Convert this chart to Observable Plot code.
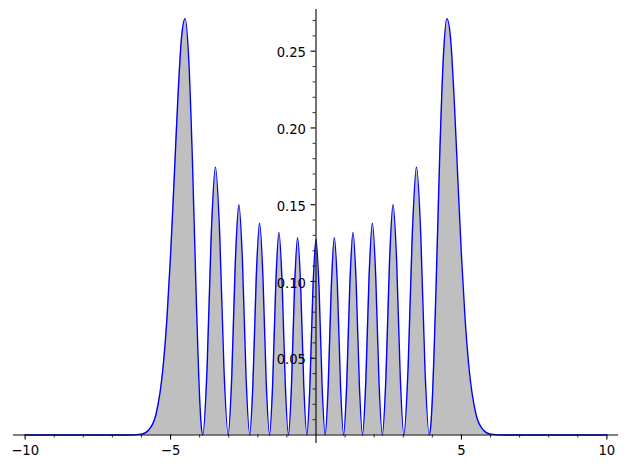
<!DOCTYPE html>
<html>
<head>
<meta charset="utf-8">
<script src="https://cdn.jsdelivr.net/npm/d3@7"></script>
<script src="https://cdn.jsdelivr.net/npm/@observablehq/plot@0.6"></script>
<style>
  html, body { margin: 0; padding: 0; background: #fff; }
  #chart svg { display: block; }
</style>
</head>
<body>
<div id="chart"></div>
<script>
// Curve samples (x, density)
const curveX = [
  -10, -7, -6.5, -6.0, -5.75, -5.5, -5.25, -5.125, -5.0, -4.875, -4.75, -4.625, -4.5, -4.375, -4.25, -4.125, -4.0, -3.95,
  -3.890, -3.745, -3.601, -3.456, -3.311, -3.166,
  -3.021, -2.897, -2.774, -2.650, -2.527, -2.404,
  -2.280, -2.166, -2.053, -1.939, -1.825, -1.712,
  -1.598, -1.490, -1.381, -1.273, -1.165, -1.056,
  -0.948, -0.843, -0.737, -0.632, -0.526, -0.420,
  -0.315, -0.210, -0.105, 0, 0.105, 0.210,
  0.315, 0.420, 0.526, 0.632, 0.737, 0.843,
  0.948, 1.056, 1.165, 1.273, 1.381, 1.490,
  1.598, 1.712, 1.825, 1.939, 2.053, 2.166,
  2.280, 2.404, 2.527, 2.650, 2.774, 2.897,
  3.021, 3.166, 3.311, 3.456, 3.601, 3.745,
  3.890, 3.95, 4.0, 4.125, 4.25, 4.375, 4.5, 4.625, 4.75, 4.875, 5.0, 5.125, 5.25, 5.5, 5.75, 6.0, 6.5, 7, 10
];
const curveY = [
  0, 0, 0.00002, 0.0006, 0.0033, 0.0135, 0.0456, 0.0757, 0.1171, 0.1673, 0.2188, 0.2586, 0.2712, 0.2447, 0.1795, 0.0946, 0.0236, 0.007,
  0, 0.0436, 0.1309, 0.1745, 0.1309, 0.0436,
  0, 0.0375, 0.1125, 0.1500, 0.1125, 0.0375,
  0, 0.0345, 0.1035, 0.1380, 0.1035, 0.0345,
  0, 0.0330, 0.0990, 0.1320, 0.0990, 0.0330,
  0, 0.0321, 0.0964, 0.1285, 0.0964, 0.0321,
  0, 0.0318, 0.0955, 0.1273, 0.0955, 0.0318,
  0, 0.0321, 0.0964, 0.1285, 0.0964, 0.0321,
  0, 0.0330, 0.0990, 0.1320, 0.0990, 0.0330,
  0, 0.0345, 0.1035, 0.1380, 0.1035, 0.0345,
  0, 0.0375, 0.1125, 0.1500, 0.1125, 0.0375,
  0, 0.0436, 0.1309, 0.1745, 0.1309, 0.0436,
  0, 0.007, 0.0236, 0.0946, 0.1795, 0.2447, 0.2712, 0.2586, 0.2188, 0.1673, 0.1171, 0.0757, 0.0456, 0.0135, 0.0033, 0.0006, 0.00002, 0, 0
];

// Tick values and labels
const xMajorTicks = [-10, -5, 5, 10];
const xMajorLabels = ["\u221210", "\u22125", "5", "10"];
const xMinorTicks = [-9, -8, -7, -6, -4, -3, -2, -1, 1, 2, 3, 4, 6, 7, 8, 9];
const yMajorTicks = [0.05, 0.10, 0.15, 0.20, 0.25];
const yMajorLabels = ["0.05", "0.10", "0.15", "0.20", "0.25"];
const yMinorTicks = [0.01, 0.02, 0.03, 0.04, 0.06, 0.07, 0.08, 0.09, 0.11, 0.12, 0.13, 0.14,
                     0.16, 0.17, 0.18, 0.19, 0.21, 0.22, 0.23, 0.24, 0.26, 0.27];

const curve = curveX.map((x, i) => ({x, y: curveY[i]}));
const xLab = xMajorTicks.map((v, i) => ({v, t: xMajorLabels[i]}));
const yLab = yMajorTicks.map((v, i) => ({v, t: yMajorLabels[i]}));

const font = "DejaVu Sans, sans-serif";

const chart = Plot.plot({
  width: 627,
  height: 468,
  marginLeft: 13,
  marginRight: 9,
  marginTop: 9,
  marginBottom: 25,
  style: {background: "#fff", fontFamily: font, fontSize: "13.2px", color: "#000", overflow: "visible"},
  x: {domain: [-10.4, 10.4], axis: null},
  y: {domain: [-0.00554, 0.27716], axis: null},
  marks: [
    Plot.areaY(curve, {x: "x", y: "y", fill: "#bfbfbf", curve: "monotone-x"}),
    Plot.line(curve, {x: "x", y: "y", stroke: "#0000ff", strokeWidth: 1.4, curve: "monotone-x"}),
    Plot.ruleY([0], {stroke: "#000", strokeWidth: 1.1}),
    Plot.ruleX([0], {stroke: "#000", strokeWidth: 1.1}),
    Plot.ruleX(xMajorTicks, {x: d => d, y1: 0, y2: 0, insetTop: 0, insetBottom: -5, stroke: "#000", strokeWidth: 1.1}),
    Plot.ruleX(xMinorTicks, {x: d => d, y1: 0, y2: 0, insetTop: 0, insetBottom: -3, stroke: "#000", strokeWidth: 0.8}),
    Plot.ruleY(yMajorTicks, {y: d => d, x1: 0, x2: 0, insetLeft: -5, insetRight: 0, stroke: "#000", strokeWidth: 1.1}),
    Plot.ruleY(yMinorTicks, {y: d => d, x1: 0, x2: 0, insetLeft: -3, insetRight: 0, stroke: "#000", strokeWidth: 0.8}),
    Plot.text(xLab, {x: "v", y: 0, text: "t", dy: 15.7, lineAnchor: "middle", textAnchor: "middle", fill: "#000", fontSize: 13.2, fontFamily: font}),
    Plot.text(yLab, {x: 0, y: "v", text: "t", dx: -10, dy: 2, lineAnchor: "middle", textAnchor: "end", fill: "#000", fontSize: 13.2, fontFamily: font})
  ]
});
document.getElementById("chart").appendChild(chart);
</script>
</body>
</html>
